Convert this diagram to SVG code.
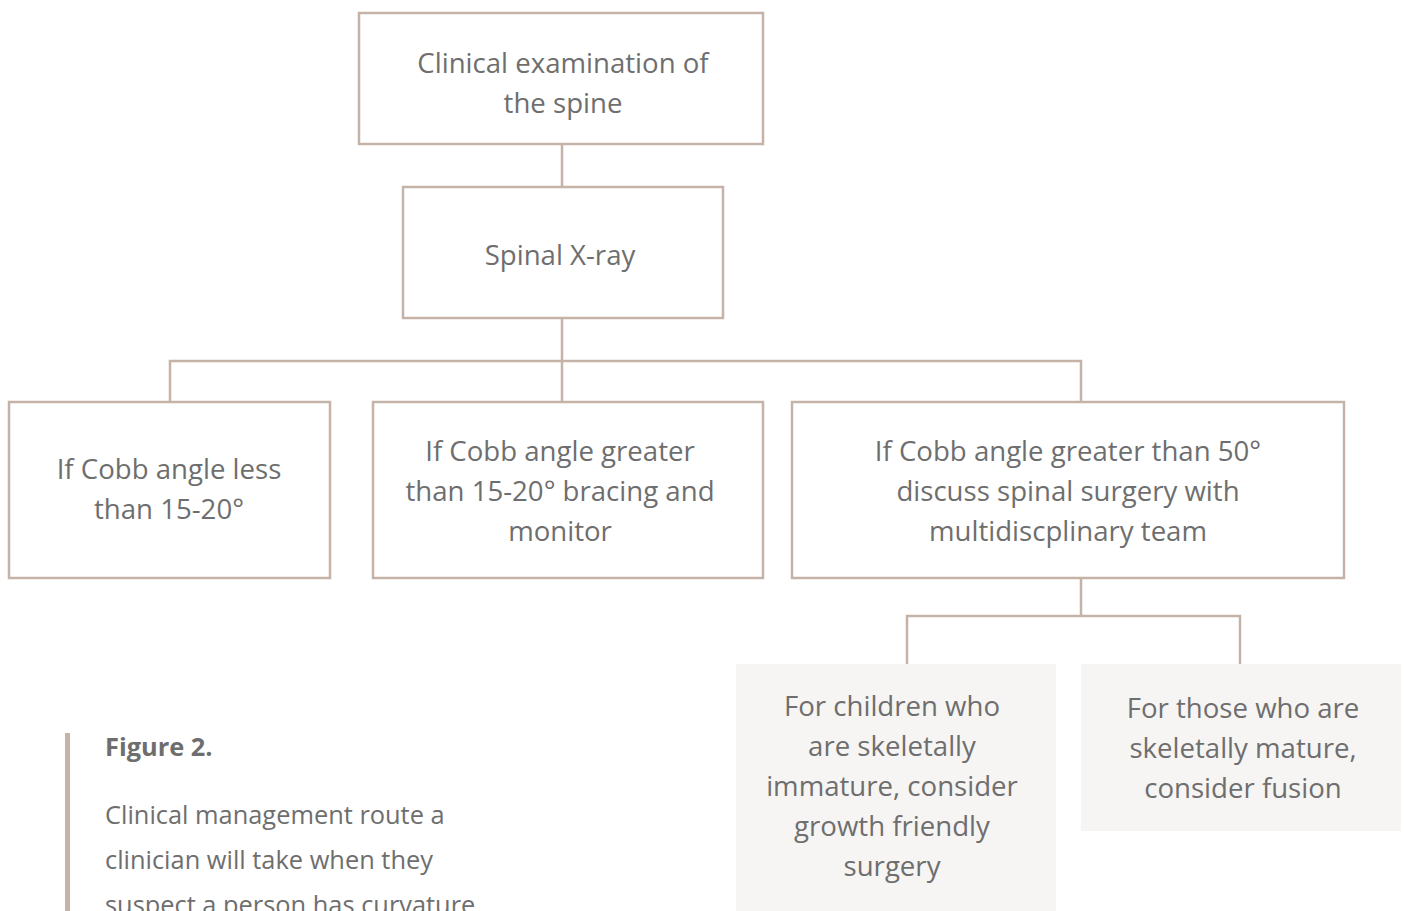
<svg xmlns="http://www.w3.org/2000/svg" width="1404" height="911" viewBox="0 0 1404 911">
<style>
.box{fill:#ffffff;stroke:#c4b3a6;stroke-width:2.5}
.sbox{fill:#f6f5f4;stroke:none}
.t{font-family:"Open Sans","Liberation Sans",sans-serif;font-size:27.6px;fill:#6e6e6e;text-anchor:middle}
.c{fill:none;stroke:#c4b3a6;stroke-width:2.5}
.cap{font-family:"Open Sans","Liberation Sans",sans-serif;font-size:25.4px;fill:#6e6e6e}
</style>
<rect width="1404" height="911" fill="#ffffff"/>
<g id="connectors">
<path class="c" d="M562 144V187M562 318V361M170 402V361H1081V402M562 361V402M1081 578V616M907 664V616H1240V664"/>
</g>
<g id="n1"><rect class="box" x="359" y="13" width="404" height="131"/>
<text class="t" x="563" y="73">Clinical examination of</text>
<text class="t" x="563" y="113">the spine</text></g>
<g id="n2"><rect class="box" x="403" y="187" width="320" height="131"/>
<text class="t" x="560" y="265">Spinal X-ray</text></g>
<g id="n3"><rect class="box" x="9" y="402" width="321" height="176"/>
<text class="t" x="169" y="479">If Cobb angle less</text>
<text class="t" x="169" y="519">than 15-20°</text></g>
<g id="n4"><rect class="box" x="373" y="402" width="390" height="176"/>
<text class="t" x="560" y="461">If Cobb angle greater</text>
<text class="t" x="560" y="501">than 15-20° bracing and</text>
<text class="t" x="560" y="541">monitor</text></g>
<g id="n5"><rect class="box" x="792" y="402" width="552" height="176"/>
<text class="t" x="1068" y="461">If Cobb angle greater than 50°</text>
<text class="t" x="1068" y="501">discuss spinal surgery with</text>
<text class="t" x="1068" y="541">multidiscplinary team</text></g>
<g id="n6"><rect class="sbox" x="736" y="664" width="320" height="247"/>
<text class="t" x="892" y="716">For children who</text>
<text class="t" x="892" y="756">are skeletally</text>
<text class="t" x="892" y="796">immature, consider</text>
<text class="t" x="892" y="836">growth friendly</text>
<text class="t" x="892" y="876">surgery</text></g>
<g id="n7"><rect class="sbox" x="1081" y="664" width="320" height="167"/>
<text class="t" x="1243" y="718">For those who are</text>
<text class="t" x="1243" y="758">skeletally mature,</text>
<text class="t" x="1243" y="798">consider fusion</text></g>
<g id="caption">
<rect x="65" y="733" width="5" height="178" fill="#c4b3a6"/>
<text class="cap" x="105" y="756" font-weight="bold" font-size="22.5">Figure 2.</text>
<text class="cap" x="105" y="824">Clinical management route a</text>
<text class="cap" x="105" y="869">clinician will take when they</text>
<text class="cap" x="105" y="914">suspect a person has curvature</text>
</g>
</svg>
